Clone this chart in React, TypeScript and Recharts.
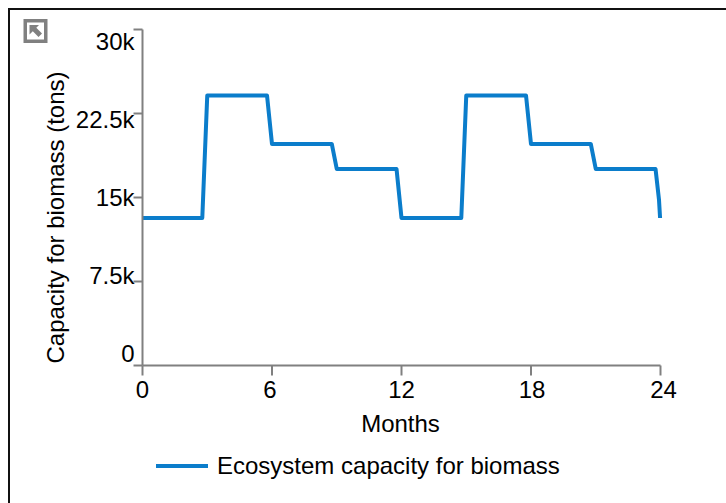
import React from "react";
import { LineChart, Line, XAxis, YAxis, Legend, Label } from "recharts";

const months = [0, 2.77, 3, 5.77, 6, 8.77, 9, 11.77, 12, 14.77, 15, 17.77, 18, 20.77, 21, 23.77, 23.93, 23.98];
const capacity = [13170, 13170, 24100, 24100, 19780, 19780, 17550, 17550, 13170, 13170, 24100, 24100, 19780, 19780, 17550, 17550, 14800, 13170];
const xTicks = [0, 6, 12, 18, 24];
const xTickShift = [0, -2, 0, 1, 3];
const yTicks = [0, 7500, 15000, 22500, 30000];
const yTickLabels = ["0", "7.5k", "15k", "22.5k", "30k"];
const labelShift = [-12, -6, 0, 6, 12];
const seriesName = "Ecosystem capacity for biomass";

const data = months.map((m, i) => ({ m, capacity: capacity[i] }));
const FONT = "'Liberation Sans', Arial, sans-serif";
const FS = 24;
const AXIS = "#808080";
const BLUE = "#0b7dcb";

function YTick(props: any) {
  const { x, y, index } = props;
  return (
    <text x={x + 3} y={y + labelShift[index]} textAnchor="end" dominantBaseline="central" fontFamily={FONT} fontSize={FS} fill="#000">
      {yTickLabels[index]}
    </text>
  );
}

function XTick(props: any) {
  const { x, y, index, payload } = props;
  return (
    <text x={x + xTickShift[index]} y={y + 12} textAnchor="middle" dominantBaseline="central" fontFamily={FONT} fontSize={FS} fill="#000">
      {payload.value}
    </text>
  );
}

function LegendContent(props: any) {
  const name = props.payload?.[0]?.value ?? seriesName;
  return (
    <div style={{ position: "absolute", left: 156, top: 0, display: "flex", alignItems: "center", height: 30, width: 500 }}>
      <svg width={52} height={6} style={{ display: "block" }}>
        <line x1={0} x2={52} y1={3} y2={3} stroke={BLUE} strokeWidth={4} />
      </svg>
      <span style={{ marginLeft: 9, fontFamily: FONT, fontSize: FS, color: "#000", whiteSpace: "nowrap" }}>{name}</span>
    </div>
  );
}

export default function App() {
  return (
    <div style={{ position: "absolute", left: 0, top: 0, width: 726, height: 503, overflow: "hidden", background: "#fff" }}>
      <div style={{ position: "absolute", left: 8, top: 8, width: 730, height: 510, borderLeft: "2px solid #111", borderTop: "2px solid #111" }} />
      <svg width={26} height={26} style={{ position: "absolute", left: 23, top: 18 }}>
        <rect x={0.5} y={1} width={24} height={24} fill="#808080" />
        <rect x={4} y={4.5} width={17} height={17} fill="#fff" />
        <path d="M6.5 7 H16 L13.3 9.7 L19 15.5 L15.5 19 L9.8 13.2 L6.5 16.5 Z" fill="#808080" />
      </svg>
      <div style={{ position: "absolute", left: 0, top: 0 }}>
        <LineChart width={726} height={503} data={data} margin={{ top: 29.5, right: 65.5, bottom: 67.5, left: 42.5 }}>
          <XAxis
            dataKey="m"
            type="number"
            domain={[0, 24]}
            ticks={xTicks}
            interval={0}
            height={40}
            tickSize={10}
            tickMargin={2}
            stroke={AXIS}
            strokeWidth={2}
            tick={<XTick />}
          >
            <Label value="Months" position="insideBottom" offset={-26} dx={-1} fill="#000" fontFamily={FONT} fontSize={FS} />
          </XAxis>
          <YAxis
            type="number"
            domain={[0, 30000]}
            ticks={yTicks}
            interval={0}
            width={100}
            tickSize={9}
            stroke={AXIS}
            strokeWidth={2}
            tick={<YTick />}
          >
            <Label value="Capacity for biomass (tons)" angle={-90} position="insideLeft" offset={0} fill="#000" fontFamily={FONT} fontSize={FS} dx={13} dy={20} style={{ textAnchor: "middle" }} />
          </YAxis>
          <Legend content={<LegendContent />} wrapperStyle={{ position: "absolute", left: 0, top: 451, width: 726, height: 30 }} />
          <Line type="linear" dataKey="capacity" name={seriesName} stroke={BLUE} strokeWidth={4} dot={false} strokeLinejoin="round" isAnimationActive={false} />
        </LineChart>
      </div>
    </div>
  );
}
